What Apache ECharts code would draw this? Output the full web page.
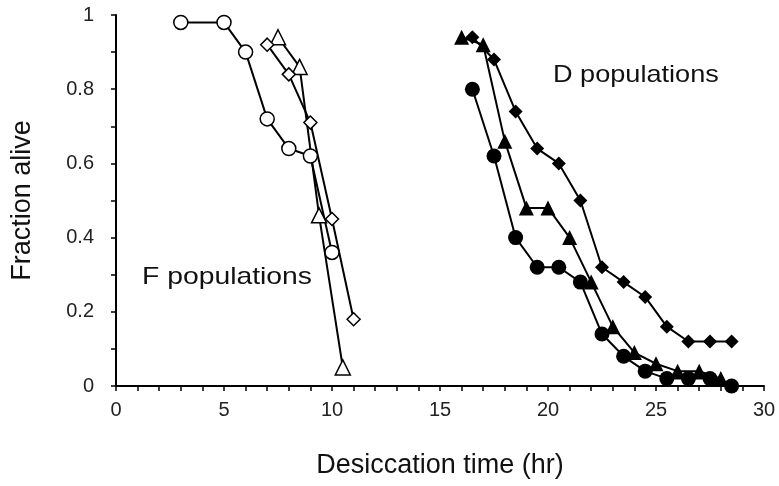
<!DOCTYPE html>
<html><head><meta charset="utf-8">
<script src="https://cdn.jsdelivr.net/npm/echarts@6/dist/echarts.min.js"></script>
<style>html,body{margin:0;padding:0;background:#fff}#c{width:779px;height:486px}</style>
</head><body><div id="c"></div>
<script>
// F populations
const fCircleX = [3, 5, 6, 7, 8, 9, 10];
const fCircleY = [0.98, 0.98, 0.90, 0.72, 0.64, 0.62, 0.36];
const fTriangleX = [7.5, 8.5, 9.4, 10.5];
const fTriangleY = [0.94, 0.86, 0.46, 0.05];
const fDiamondX = [7, 8, 9, 10, 11];
const fDiamondY = [0.92, 0.84, 0.71, 0.45, 0.18];
// D populations
const dCircleX = [16.5, 17.5, 18.5, 19.5, 20.5, 21.5, 22.5, 23.5, 24.5, 25.5, 26.5, 27.5, 28.5];
const dCircleY = [0.80, 0.62, 0.40, 0.32, 0.32, 0.28, 0.14, 0.08, 0.04, 0.02, 0.02, 0.02, 0.00];
const dTriangleX = [16, 17, 18, 19, 20, 21, 22, 23, 24, 25, 26, 27, 28];
const dTriangleY = [0.94, 0.92, 0.66, 0.48, 0.48, 0.40, 0.28, 0.16, 0.09, 0.06, 0.04, 0.04, 0.02];
const dDiamondX = [16.5, 17.5, 18.5, 19.5, 20.5, 21.5, 22.5, 23.5, 24.5, 25.5, 26.5, 27.5, 28.5];
const dDiamondY = [0.94, 0.88, 0.74, 0.64, 0.60, 0.50, 0.32, 0.28, 0.24, 0.16, 0.12, 0.12, 0.12];

const xTicks = [0, 5, 10, 15, 20, 25, 30];
const yTicks = [0, 0.2, 0.4, 0.6, 0.8, 1];
const xTitle = 'Desiccation time (hr)';
const yTitle = 'Fraction alive';
const fLabel = 'F populations';
const dLabel = 'D populations';

const FONT = '"Liberation Sans", Arial, sans-serif';
const pairs = (xs, ys) => xs.map((x, i) => [x, ys[i]]);

function mk(xs, ys, symbol, size, filled) {
  return {
    type: 'line', data: pairs(xs, ys), symbol: symbol, symbolSize: size,
    showAllSymbol: true, animation: false, z: 3,
    lineStyle: {color: '#000', width: 2},
    itemStyle: {color: filled ? '#000' : '#fff', borderColor: '#000', borderWidth: filled ? 0 : 1.5}
  };
}

const chart = echarts.init(document.getElementById('c'), null, {renderer: 'canvas'});
chart.setOption({
  backgroundColor: '#fff',
  animation: false,
  grid: {left: 116, right: 15, top: 15, bottom: 100},
  xAxis: {
    type: 'value', min: xTicks[0], max: xTicks[xTicks.length - 1], interval: 5,
    axisLine: {lineStyle: {color: '#000', width: 2}},
    axisTick: {show: true, length: 5, lineStyle: {color: '#000', width: 1.5}},
    minorTick: {show: true, splitNumber: 5, length: 5, lineStyle: {color: '#000', width: 1.5}},
    splitLine: {show: false},
    axisLabel: {color: '#222', fontSize: 20, fontFamily: FONT, margin: 14},
    name: xTitle, nameLocation: 'middle', nameGap: 66,
    nameTextStyle: {color: '#111', fontSize: 27, fontFamily: FONT}
  },
  yAxis: {
    type: 'value', min: yTicks[0], max: yTicks[yTicks.length - 1], interval: 0.2,
    axisLine: {show: true, lineStyle: {color: '#000', width: 2}},
    axisTick: {show: true, length: 5, lineStyle: {color: '#000', width: 1.5}},
    minorTick: {show: true, splitNumber: 2, length: 5, lineStyle: {color: '#000', width: 1.5}},
    splitLine: {show: false},
    axisLabel: {color: '#222', fontSize: 20, fontFamily: FONT, margin: 22},
    name: yTitle, nameLocation: 'middle', nameGap: 80, nameRotate: 90,
    nameTextStyle: {color: '#111', fontSize: 27, fontFamily: FONT}
  },
  series: [
    mk(fCircleX, fCircleY, 'circle', 14, false),
    mk(fTriangleX, fTriangleY, 'triangle', 15, false),
    mk(fDiamondX, fDiamondY, 'diamond', 13, false),
    mk(dCircleX, dCircleY, 'circle', 15, true),
    mk(dTriangleX, dTriangleY, 'triangle', 15, true),
    mk(dDiamondX, dDiamondY, 'diamond', 14, true)
  ],
  graphic: [
    {type: 'text', x: 142, y: 265, scaleX: 1.18, style: {text: fLabel, font: '24px ' + FONT, fill: '#111'}},
    {type: 'text', x: 553, y: 63, scaleX: 1.13, style: {text: dLabel, font: '24px ' + FONT, fill: '#111'}}
  ]
});
</script></body></html>
